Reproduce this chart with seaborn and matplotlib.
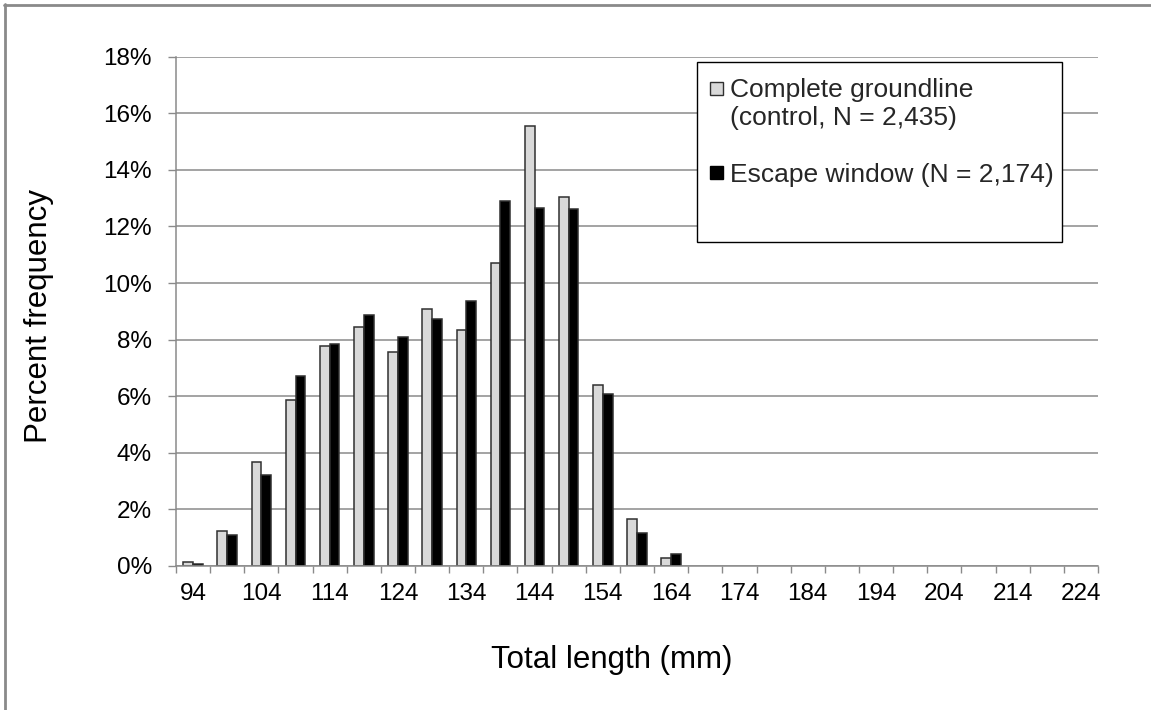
import numpy as np
import pandas as pd
import matplotlib
matplotlib.use("Agg")
import matplotlib.pyplot as plt
import seaborn as sns
from matplotlib.patches import Rectangle, Patch
from matplotlib.lines import Line2D
from matplotlib.legend_handler import HandlerPatch
from matplotlib.ticker import FuncFormatter

# ---- data ----
lengths = [94, 99, 104, 109, 114, 119, 124, 129, 134, 139, 144, 149, 154, 159,
           164, 169, 174, 179, 184, 189, 194, 199, 204, 209, 214, 219, 224]
control = [0.13, 1.25, 3.67, 5.86, 7.78, 8.46, 7.56, 9.08, 8.33, 10.70, 15.54, 13.03,
           6.41, 1.65, 0.29, 0, 0, 0, 0, 0, 0, 0, 0, 0, 0, 0, 0]
escape = [0.08, 1.08, 3.23, 6.72, 7.84, 8.87, 8.10, 8.74, 9.37, 12.90, 12.64, 12.63,
          6.09, 1.17, 0.41, 0, 0, 0, 0, 0, 0, 0, 0, 0, 0, 0, 0]
series_names = ["Complete groundline\n(control, N = 2,435)", "Escape window (N = 2,174)"]
y_ticks = [0, 2, 4, 6, 8, 10, 12, 14, 16, 18]
x_labels_shown = [94, 104, 114, 124, 134, 144, 154, 164, 174, 184, 194, 204, 214, 224]

rows = []
for L, c, e in zip(lengths, control, escape):
    rows.append({"length": str(L), "pct": c, "series": series_names[0]})
    rows.append({"length": str(L), "pct": e, "series": series_names[1]})
df = pd.DataFrame(rows)
df_plot = df[df["pct"] > 0]

sns.set_theme(style="white")
plt.rcParams["font.family"] = ["Liberation Sans", "DejaVu Sans"]

W, H = 1151, 710
fig, ax = plt.subplots(figsize=(W / 100, H / 100), dpi=100)
fig.subplots_adjust(left=176 / W, right=1098 / W, top=1 - 56.6 / H, bottom=1 - 566 / H)

gray = "#d9d9d9"
sns.barplot(data=df_plot, x="length", y="pct", hue="series",
            order=[str(L) for L in lengths], hue_order=series_names,
            palette=[gray, "#000000"], saturation=1, width=0.57,
            edgecolor="#303030", linewidth=1.1, legend=False, ax=ax)

ax.set_xlim(-0.5, len(lengths) - 0.5)
ax.set_ylim(0, 18)
ax.set_yticks(y_ticks)
ax.yaxis.set_major_formatter(FuncFormatter(lambda v, p: f"{v:.0f}%"))
ax.yaxis.grid(True, color="#8a8a8a", lw=1.1)
ax.xaxis.grid(False)
ax.set_axisbelow(True)

pos = [lengths.index(v) for v in x_labels_shown]
ax.set_xticks(pos)
ax.set_xticklabels([str(v) for v in x_labels_shown])
ax.set_xticks(np.arange(-0.5, len(lengths), 1), minor=True)
ax.tick_params(axis="x", which="major", length=0, pad=12.5, labelsize=17.5, labelcolor="black", bottom=True)
ax.tick_params(axis="x", which="minor", length=5, width=1.0, color="#8a8a8a", direction="out", bottom=True)
ax.tick_params(axis="y", which="major", length=5.8, width=1.0, color="#8a8a8a", direction="out",
               pad=11.5, labelsize=17.5, labelcolor="black", left=True)

for s in ["top", "right"]:
    ax.spines[s].set_visible(False)
for s in ["left", "bottom"]:
    ax.spines[s].set_color("#8a8a8a")
    ax.spines[s].set_linewidth(1.1)

ax.set_xlabel("Total length (mm)", fontsize=22.5, color="black")
ax.set_ylabel("Percent frequency", fontsize=22.5, color="black")
ax.xaxis.set_label_coords(0.473, -0.156)
ax.yaxis.set_label_coords(-0.132, 0.491)

# legend frame
frame = Rectangle((0.565, 0.636), 0.396, 0.353, transform=ax.transAxes,
                  facecolor="white", edgecolor="black", lw=1.0, zorder=4)
ax.add_patch(frame)


def square_handler(shift):
    def make(legend, orig_handle, xdescent, ydescent, width, height, fontsize):
        side = width
        cy = -ydescent + height / 2 + shift * fontsize
        return Rectangle((-xdescent, cy - side / 2), side, side)
    return HandlerPatch(patch_func=make)


handles = [Patch(facecolor=gray, edgecolor="#303030", lw=1.0),
           Patch(facecolor="black", edgecolor="black", lw=1.0)]
leg = ax.legend(handles, series_names, loc="upper left", bbox_to_anchor=(0.579, 0.958),
                frameon=False, fontsize=19, handlelength=0.5, handleheight=0.7,
                handletextpad=0.25, labelspacing=1.25, borderpad=0, borderaxespad=0,
                handler_map={handles[0]: square_handler(0.6), handles[1]: square_handler(0.0)})
leg.set_zorder(6)

# outer border (top and left visible)
fig.add_artist(Line2D([4 / W, 1], [1 - 5 / H, 1 - 5 / H], color="#8a8a8a", lw=2, transform=fig.transFigure))
fig.add_artist(Line2D([5 / W, 5 / W], [0, 1 - 4 / H], color="#8a8a8a", lw=2, transform=fig.transFigure))

fig.savefig("out.png", dpi=100)
